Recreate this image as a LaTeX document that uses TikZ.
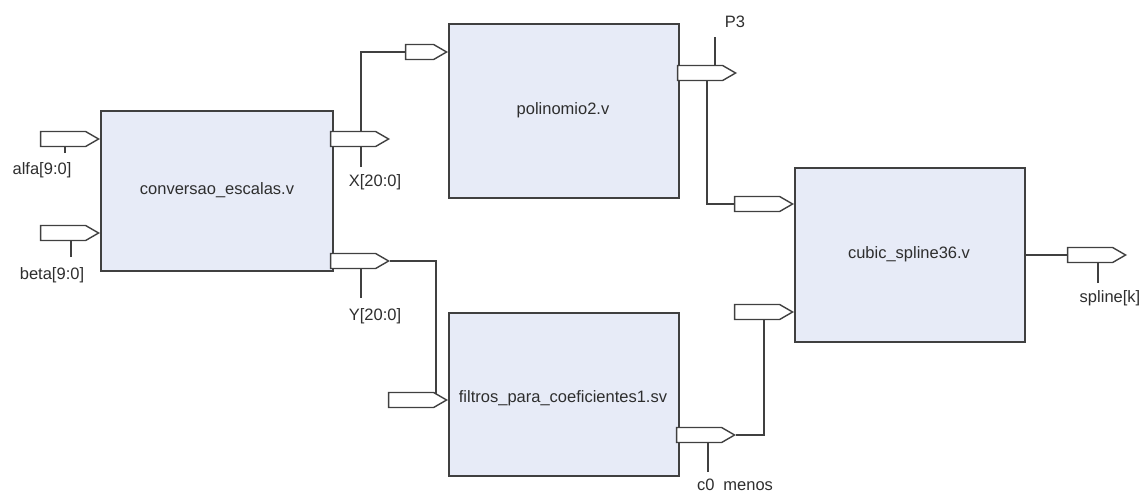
\documentclass[tikz,border=0pt]{standalone}
\usepackage{fontspec}
\setmainfont{Liberation Sans}
\usetikzlibrary{shapes.symbols,calc}
\definecolor{blockfill}{RGB}{231,235,247}
\definecolor{wire}{RGB}{64,64,64}
\begin{document}
\begin{tikzpicture}[x=1pt,y=-1pt,
  every node/.style={font=\fontsize{16.5}{19}\selectfont, text=black!82},
  block/.style={draw=wire, line width=1.5pt, fill=blockfill, inner sep=0pt, anchor=north west},
  port/.style={signal, signal to=east, signal pointer angle=60, draw=wire, line width=1.4pt, fill=white,
     minimum width=58pt, minimum height=15pt, inner sep=0pt, anchor=east},
  wireln/.style={draw=wire, line width=1.5pt},
  lbl/.style={inner sep=0pt}]
\useasboundingbox (0,0) rectangle (1148,493);

% blocks
\node[block, minimum width=232pt, minimum height=160pt] (conv) at (100,110) {};
\node at (217,190) {conversao\_escalas.v};
\node[block, minimum width=230pt, minimum height=174pt] (poly) at (448,23) {};
\node at (563,110) {polinomio2.v};
\node[block, minimum width=230pt, minimum height=163pt] (filt) at (448,312) {};
\node at (563,398) {filtros\_para\_coeficientes1.sv};
\node[block, minimum width=230pt, minimum height=174pt] (cub) at (794,167) {};
\node at (909,254) {cubic\_spline36.v};

% stem end coordinates
\coordinate (alfaS) at (65,153);
\coordinate (betaS) at (71,257);
\coordinate (xS) at (361,167);
\coordinate (yS) at (361,298);
\coordinate (p3S) at (715,37);
\coordinate (c0S) at (708,472);
\coordinate (spS) at (1098,283);

% port anchors (invisible)
\path (100,139) node[port, draw=none, fill=none] (alfa) {};
\path (100,233) node[port, draw=none, fill=none] (beta) {};
\path (390,139) node[port, draw=none, fill=none] (xo) {};
\path (448,52) node[port, draw=none, fill=none, minimum width=41pt] (pin) {};
\path (390,261) node[port, draw=none, fill=none] (yo) {};
\path (448,400) node[port, draw=none, fill=none] (fin) {};
\path (737,73) node[port, draw=none, fill=none] (p3) {};
\path (794,204) node[port, draw=none, fill=none] (c1) {};
\path (794,312) node[port, draw=none, fill=none] (c2) {};
\path (736,435) node[port, draw=none, fill=none] (c0) {};
\path (1127,255) node[port, draw=none, fill=none] (so) {};

% wires (behind ports)
\draw[wireln] (xS) |- (pin.west);
\draw[wireln] (yo.east) -| ([xshift=-12pt]fin.east);
\draw[wireln] (yS) -- (yS |- yo.center);
\draw[wireln] (p3S) -- (p3S |- p3.center);
\draw[wireln] ([xshift=30pt]p3.west) |- (c1.west);
\draw[wireln] ([xshift=30pt]c2.west) |- (c0.east);
\draw[wireln] (c0S) -- (c0S |- c0.center);
\draw[wireln] (so.west) -- (so.west -| cub.east);
\draw[wireln] (spS) -- (spS |- so.center);
\draw[wireln] (alfaS) -- (alfaS |- alfa.center);
\draw[wireln] (betaS) -- (betaS |- beta.center);

% visible ports on top
\foreach \p/\w in {{100,139}/58, {100,233}/58, {390,139}/58, {448,52}/41,
  {390,261}/58, {448,400}/58, {737,73}/58, {794,204}/58, {794,312}/58,
  {736,435}/58, {1127,255}/58}
  \path (\p) node[port, minimum width=\w pt] {};

% labels
\node[lbl] (alfaL) at (42,170) {alfa[9:0]};
\node[lbl] (betaL) at (52,275) {beta[9:0]};
\node[lbl] (xL) at (375,182) {X[20:0]};
\node[lbl] (yL) at (375,316) {Y[20:0]};
\node[lbl] (p3L) at (735,22) {P3};
\node[lbl] (c0L) at (735,485) {c0\hspace{9pt}menos};
\node[lbl] (spL) at (1110,298) {spline[k]};
\end{tikzpicture}
\end{document}
